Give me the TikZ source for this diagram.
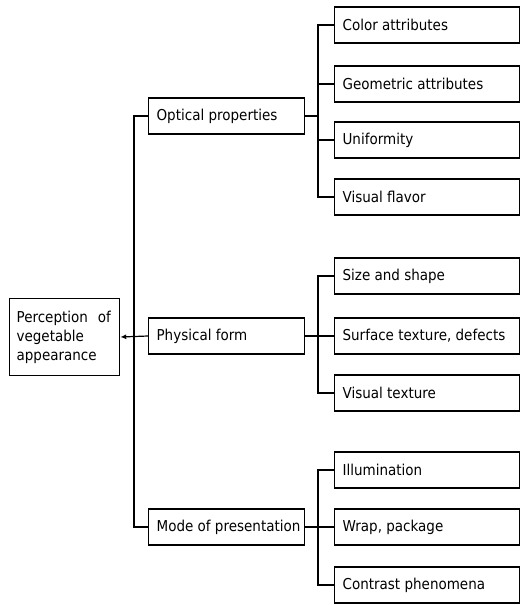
\documentclass[tikz,border=0pt]{standalone}
\usepackage{fontspec}
\setmainfont{DejaVu Sans}[FakeStretch=0.9]
\usetikzlibrary{arrows.meta}
\newcommand\lvtext[1]{\makebox[140pt][l]{#1}}
\newcommand\lftext[1]{\makebox[169pt][l]{#1}}
\begin{document}
\begin{tikzpicture}[x=1pt,y=-1pt,
  every node/.style={font=\fontsize{15}{19}\selectfont},
  box/.style={draw,line width=1.2pt,anchor=west,align=left,inner xsep=8pt,inner ysep=0pt,minimum height=36pt},
  lvl/.style={box},
  leaf/.style={box},
  conn/.style={line width=1.2pt}]
\useasboundingbox (0,0) rectangle (521,605);
% root
\node[box,inner xsep=7pt,text width=96pt,minimum height=77pt] (root) at (9,337) {Perception\ \ of\\vegetable\\appearance};
% level 2
\node[lvl] (opt) at (148,116) {\lvtext{Optical properties}};
\node[lvl] (phys) at (148,336) {\lvtext{Physical form}};
\node[lvl] (mode) at (148,527) {\lvtext{Mode of presentation}};
% leaves
\node[leaf] (c1) at (334,25) {\lftext{Color attributes}};
\node[leaf] (c2) at (334,84) {\lftext{Geometric attributes}};
\node[leaf] (c3) at (334,140) {\lftext{Uniformity}};
\node[leaf] (c4) at (334,197) {\lftext{Visual flavor}};
\node[leaf] (s1) at (334,276) {\lftext{Size and shape}};
\node[leaf] (s2) at (334,336) {\lftext{Surface texture, defects}};
\node[leaf] (s3) at (334,393) {\lftext{Visual texture}};
\node[leaf] (m1) at (334,470) {\lftext{Illumination}};
\node[leaf] (m2) at (334,527) {\lftext{Wrap, package}};
\node[leaf] (m3) at (334,585) {\lftext{Contrast phenomena}};
% main spine
\coordinate (sp) at (134,336);
\draw[conn] (opt.west) -| (sp) |- (mode.west);
\draw[conn,-{Latex[length=6pt,width=5pt]}] (phys.west) -- (root.east);
% optical
\coordinate (os) at (318,116);
\draw[conn] (opt.east) -- (os);
\draw[conn] (c1.west) -| (os);
\draw[conn] (c4.west) -| (os);
\draw[conn] (c2.west) -- (c2.west -| os);
\draw[conn] (c3.west) -- (c3.west -| os);
% physical
\coordinate (ps) at (318,336);
\draw[conn] (phys.east) -- (s2.west);
\draw[conn] (s1.west) -| (ps) |- (s3.west);
% mode
\coordinate (ms) at (318,527);
\draw[conn] (mode.east) -- (m2.west);
\draw[conn] (m1.west) -| (ms) |- (m3.west);
\end{tikzpicture}
\end{document}
